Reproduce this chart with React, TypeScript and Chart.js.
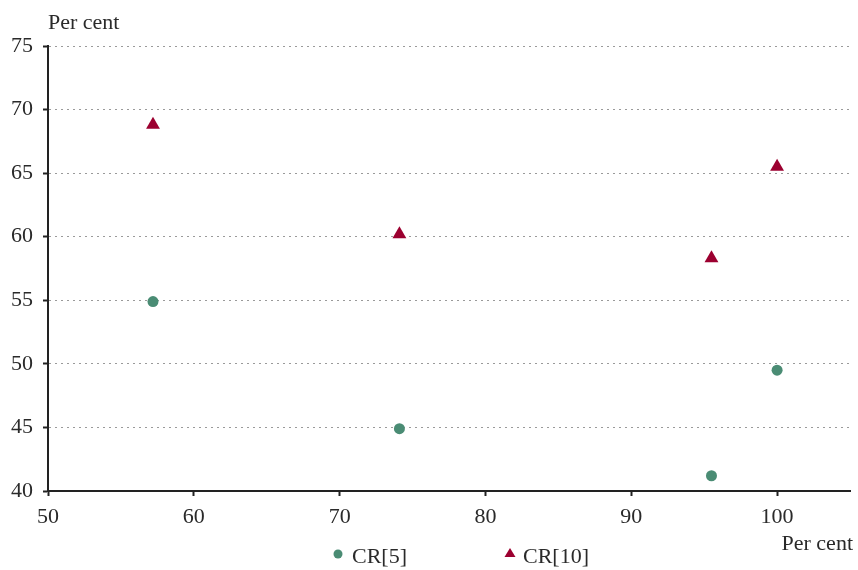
import React, { useEffect, useRef } from "react";
import { Chart, registerables } from "chart.js";

Chart.register(...registerables);

const cr5X = [57.2, 74.1, 95.5, 100.0];
const cr5Y = [54.9, 44.9, 41.2, 49.5];
const cr10X = [57.2, 74.1, 95.5, 100.0];
const cr10Y = [68.8, 60.2, 58.3, 65.5];
const xTicks = [50, 60, 70, 80, 90, 100];
const yTicks = [40, 45, 50, 55, 60, 65, 70, 75];
const seriesNames = ["CR[5]", "CR[10]"];
const axisTitle = "Per cent";

const GREEN = "#4a8c74";
const RED = "#9c0030";
const FONT = "'Liberation Serif', 'DejaVu Serif', serif";
const TEXT = "#2a2a2a";

const overlay = {
  id: "overlay",
  afterDraw(chart: any) {
    const ctx = chart.ctx;
    const area = chart.chartArea;
    ctx.save();
    ctx.fillStyle = TEXT;
    ctx.font = `22px ${FONT}`;
    ctx.textBaseline = "alphabetic";
    ctx.textAlign = "left";
    ctx.fillText(axisTitle, area.left, 29);
    ctx.textAlign = "right";
    ctx.fillText(axisTitle, 853, 550);
    // legend
    ctx.textAlign = "left";
    ctx.fillStyle = GREEN;
    ctx.beginPath();
    ctx.arc(338, 554, 4.5, 0, Math.PI * 2);
    ctx.fill();
    ctx.fillStyle = TEXT;
    ctx.fillText(seriesNames[0], 352, 563);
    ctx.fillStyle = RED;
    ctx.beginPath();
    ctx.moveTo(510, 548);
    ctx.lineTo(515.5, 557);
    ctx.lineTo(504.5, 557);
    ctx.closePath();
    ctx.fill();
    ctx.fillStyle = TEXT;
    ctx.fillText(seriesNames[1], 523, 563);
    ctx.restore();
  },
};

export default function App() {
  const ref = useRef<HTMLCanvasElement>(null);
  useEffect(() => {
    if (!ref.current) return;
    const chart = new Chart(ref.current, {
      type: "scatter",
      data: {
        datasets: [
          {
            label: seriesNames[0],
            data: cr5X.map((x, i) => ({ x, y: cr5Y[i] })),
            pointStyle: "circle",
            pointRadius: 5.5,
            pointBorderWidth: 0,
            backgroundColor: GREEN,
            borderColor: GREEN,
          },
          {
            label: seriesNames[1],
            data: cr10X.map((x, i) => ({ x, y: cr10Y[i] })),
            pointStyle: "triangle",
            pointRadius: 8,
            pointBorderWidth: 0,
            backgroundColor: RED,
            borderColor: RED,
          },
        ],
      },
      options: {
        animation: false,
        responsive: true,
        maintainAspectRatio: false,
        layout: { padding: { left: 0, right: 6, top: 46, bottom: 0 } },
        plugins: { legend: { display: false }, tooltip: { enabled: false } },
        scales: {
          x: {
            type: "linear",
            min: 50,
            max: 105,
            afterBuildTicks: (s: any) => {
              s.ticks = xTicks.map((v) => ({ value: v }));
            },
            afterFit: (s: any) => {
              s.height = 79;
            },
            grid: {
              drawOnChartArea: false,
              drawTicks: true,
              tickLength: 5,
              tickColor: "#222",
              tickWidth: 2,
            },
            border: { color: "#222", width: 2 },
            ticks: {
              padding: 8,
              color: TEXT,
              font: { family: FONT, size: 22 },
              maxRotation: 0,
            },
          },
          y: {
            type: "linear",
            min: 40,
            max: 75,
            afterBuildTicks: (s: any) => {
              s.ticks = yTicks.map((v) => ({ value: v }));
            },
            afterFit: (s: any) => {
              s.width = 48;
            },
            grid: {
              color: "#9a9a9a",
              lineWidth: 1,
              drawTicks: true,
              tickLength: 5,
              tickColor: "#222",
              tickWidth: 2,
              tickBorderDash: [],
            },
            border: { color: "#222", width: 2, dash: [2, 4] },
            ticks: {
              padding: 10,
              color: TEXT,
              font: { family: FONT, size: 22 },
            },
          },
        },
      },
      plugins: [overlay],
    });
    return () => chart.destroy();
  }, []);
  return (
    <div style={{ position: "absolute", left: 0, top: 0, width: 858, height: 570, background: "#fff" }}>
      <canvas ref={ref} />
    </div>
  );
}
